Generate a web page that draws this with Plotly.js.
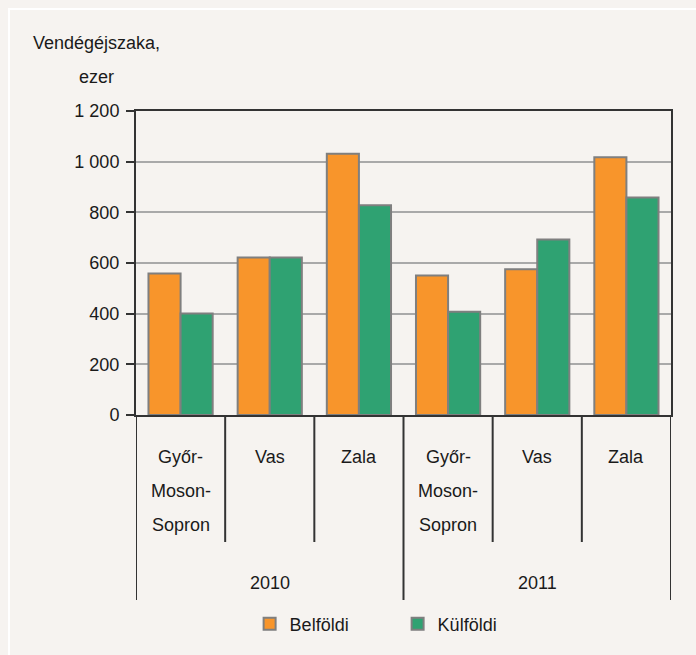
<!DOCTYPE html>
<html>
<head>
<meta charset="utf-8">
<script src="https://cdn.plot.ly/plotly-3.0.1.min.js"></script>
<style>
  html, body { margin: 0; padding: 0; background: #f6f3f0; }
  #wrap { position: relative; width: 696px; height: 655px; overflow: hidden; }
  #chart { width: 696px; height: 655px; }
  #frame { position: absolute; left: 8px; top: 8px; width: 700px; height: 660px;
           border-left: 2px solid #ffffff; border-top: 2px solid #ffffff; pointer-events: none; }
</style>
</head>
<body>
<div id="wrap">
  <div id="chart"></div>
  <div id="frame"></div>
</div>
<script>
// ---- data ----
const years = ['2010', '2011'];
const regions = ['Győr-<br>Moson-<br>Sopron', 'Vas', 'Zala'];
const belfoldi = [559, 622, 1031, 551, 575, 1017];   // Belföldi
const kulfoldi = [401, 622, 828, 408, 693, 859];     // Külföldi
const seriesNames = ['Belföldi', 'Külföldi'];
const yTitleLines = ['Vendégéjszaka,', 'ezer'];

// ---- build ----
const FONT = '"Liberation Sans", Arial, sans-serif';
const FS = 18;
const keys = [];
const keyRegion = [];
years.forEach(y => regions.forEach(r => { keys.push(y + ' ' + r.replace(/<br>/g, '')); keyRegion.push(r); }));

const traces = [
  { type: 'bar', name: seriesNames[0], x: keys, y: belfoldi,
    marker: { color: '#f8952b', line: { color: '#7f7f7f', width: 2 } } },
  { type: 'bar', name: seriesNames[1], x: keys, y: kulfoldi,
    marker: { color: '#2fa272', line: { color: '#7f7f7f', width: 2 } } }
];

const plotH = 304;
const annotations = [];
const shapes = [];
const txtFont = { family: FONT, size: FS, color: '#1a1a1a' };
// category labels
keys.forEach((k, i) => {
  keyRegion[i].split('<br>').forEach((line, j) => {
    annotations.push({ xref: 'x', yref: 'paper', x: k, y: 0, yanchor: 'middle', xanchor: 'center',
      yshift: -42 - 34 * j, text: line, showarrow: false, font: txtFont });
  });
});
// year labels, centred under each group
years.forEach((yr, g) => {
  const mid = keys[g * regions.length + Math.floor(regions.length / 2)];
  annotations.push({ xref: 'x', yref: 'paper', x: mid, y: 0, yanchor: 'middle', xanchor: 'center',
    yshift: -168, text: yr, showarrow: false, font: txtFont });
});
// y title
yTitleLines.forEach((t, j) => {
  annotations.push({ xref: 'paper', yref: 'paper', x: 0, y: 1, xanchor: 'center', yanchor: 'middle',
    xshift: -40, yshift: 68 - 34 * j, text: t, showarrow: false, font: txtFont });
});
// dividers
for (let i = 0; i <= keys.length; i++) {
  const outer = (i % regions.length === 0);
  shapes.push({ type: 'line', xref: 'x', yref: 'paper', x0: i - 0.5, x1: i - 0.5, y0: 0,
    y1: outer ? -185 / plotH : -127 / plotH, line: { color: '#333333', width: 2 } });
}

const layout = {
  width: 696, height: 655,
  margin: { l: 136, r: 25, t: 111, b: 240 },
  paper_bgcolor: '#f6f3f0', plot_bgcolor: '#f6f3f0',
  separators: ', ',
  font: txtFont,
  barmode: 'group', bargap: 0.28, bargroupgap: 0,
  showlegend: true,
  legend: { orientation: 'h', x: 0.489, xanchor: 'center', y: -209 / plotH, yanchor: 'middle',
    font: txtFont, bgcolor: 'rgba(0,0,0,0)',
    entrywidth: 103, entrywidthmode: 'pixels' },
  xaxis: { type: 'category', showticklabels: false, ticks: '', showgrid: false,
    showline: true, linecolor: '#333333', linewidth: 2, mirror: true, zeroline: false,
    range: [-0.5, keys.length - 0.5], fixedrange: true },
  yaxis: { range: [0, 1200], dtick: 200, tick0: 0, separatethousands: true,
    ticks: 'outside', ticklen: 8, tickwidth: 2, tickcolor: '#333333', ticklabelstandoff: 3,
    showgrid: true, gridcolor: '#a9a9a9', gridwidth: 2,
    showline: true, linecolor: '#333333', linewidth: 2, mirror: true, zeroline: false,
    tickfont: txtFont, fixedrange: true },
  annotations: annotations,
  shapes: shapes
};

Plotly.newPlot('chart', traces, layout, { displayModeBar: false, staticPlot: true });
</script>
</body>
</html>
